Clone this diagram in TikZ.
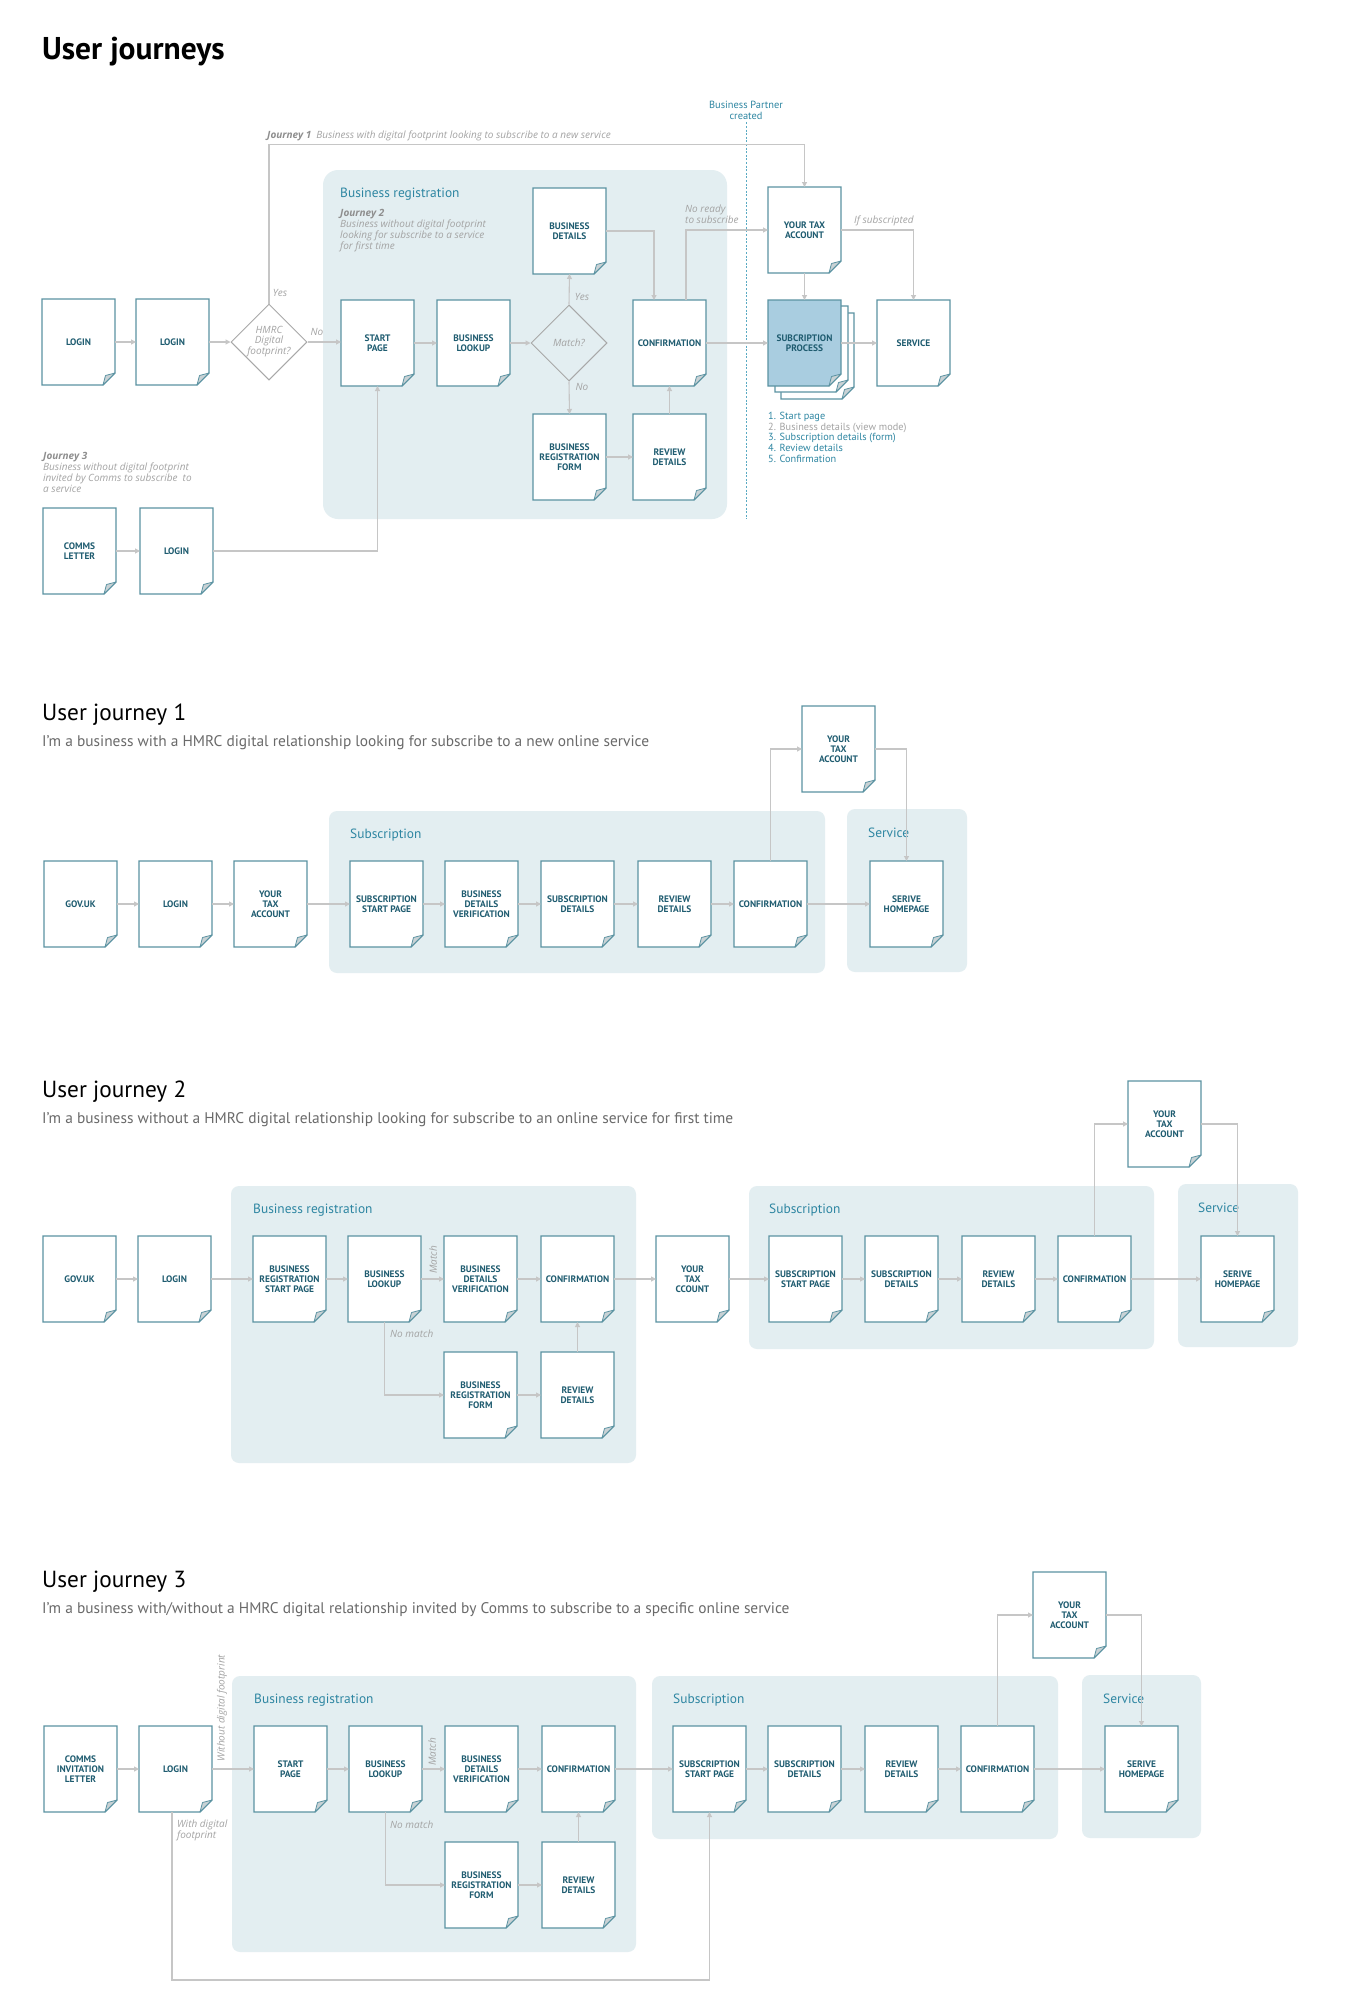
\documentclass[tikz,border=0pt]{standalone}
\usepackage{fontspec}
\setmainfont{PT Sans}
\newfontfamily\lblfont{Open Sans}
\usetikzlibrary{arrows.meta,shapes.geometric,calc}
\definecolor{pgborder}{HTML}{5B93A2}
\definecolor{pgtext}{HTML}{1F5C70}
\definecolor{conncol}{HTML}{C6C6C6}
\definecolor{grpfill}{HTML}{E3EEF1}
\definecolor{grptitlecol}{HTML}{2E86A2}
\definecolor{lblgray}{HTML}{A3A3A3}
\definecolor{lbldark}{HTML}{8E8E8E}
\definecolor{foldfill}{HTML}{C9D2D5}
\definecolor{spfill}{HTML}{A9CDE0}
\definecolor{bpline}{HTML}{5AAAC3}
\definecolor{subgray}{HTML}{6A6A6A}
\tikzset{
 pageline/.style={draw=pgborder, line width=1.1pt, line join=miter},
 foldst/.style={draw=pgborder, fill=foldfill, line width=0.8pt, line join=round},
 pagetext/.style={minimum width=73pt, minimum height=86pt, inner sep=0pt, outer sep=0pt, align=center, text=pgtext, font=\bfseries\fontsize{9.4}{10}\selectfont},
 conn/.style={draw=conncol, line width=1.1pt, -{Triangle[length=5pt,width=5pt]}},
 grp/.style={fill=grpfill, draw=none, rounded corners=8pt},
 grptitlest/.style={anchor=west, text=grptitlecol, font=\fontsize{13.4}{15}\selectfont, inner sep=0pt},
 lbl/.style={text=lblgray, font=\lblfont\itshape\fontsize{10}{11}\selectfont, inner sep=0pt},
 dmd/.style={diamond, draw=conncol!85!black, line width=1pt, minimum width=76pt, minimum height=76pt, inner sep=0pt, shape aspect=1, align=center, text=lblgray, font=\lblfont\itshape\fontsize{10}{9.8}\selectfont},
 heading/.style={anchor=west, inner sep=0pt, font=\fontsize{23.3}{26}\selectfont},
 subhead/.style={anchor=west, inner sep=0pt, text=subgray, font=\fontsize{15.4}{18}\selectfont},
}
\newcommand\pg[5][white]{%
 \filldraw[pageline, fill=#1] (#3,#4) -- ++(73,0) -- ++(0,74) -- ++(-12,12) -- ++(-61,0) -- cycle;
 \filldraw[foldst] (#3+73,#4+74) -- (#3+61,#4+86) -- (#3+63.5,#4+76.5) -- cycle;
 \node[pagetext] (#2) at (#3+36.5,#4+43) {#5};
}
\newcommand\hc[2]{\draw[conn] (#1.east) -- (#1.east -| #2.west);}
\begin{document}
\begin{tikzpicture}[x=1pt,y=-1pt]
\fill[white] (0,0) rectangle (1347,2000);
\useasboundingbox (0,0) rectangle (1347,2000);

% ---------------- Title
\node[anchor=west, inner sep=0pt, font=\bfseries\fontsize{31.5}{34}\selectfont] (title) at (42,52) {User journeys};

% ---------------- Overview
\fill[grpfill, rounded corners=15pt] (323,170) rectangle (727,519);
\node[grptitlest] (brtA) at (340,194) {Business registration};
\node[lbl, anchor=north west, align=left, font=\lblfont\itshape\fontsize{10}{11}\selectfont] (j2txt) at (340,209) {{\bfseries\color{lbldark}Journey 2}\\Business without digital footprint\\looking for subscribe to a service\\for first time};
\node[lbl, anchor=west] (j1txt) at (267,136) {{\bfseries\color{lbldark}Journey 1}\enspace Business with digital footprint looking to subscribe to a new service};
\node[lbl, anchor=north west, align=left, font=\lblfont\itshape\fontsize{10}{11}\selectfont] (j3txt) at (43,452) {{\bfseries\color{lbldark}Journey 3}\\Business without digital footprint\\invited by Comms to subscribe\ \ to\\a service};

\node[inner sep=0pt, align=center, text=grptitlecol, font=\fontsize{10.4}{11}\selectfont] (bp) at (746,110) {Business Partner\\created};
\coordinate (bpend) at (746,519);
\draw[bpline, line width=1pt, dash pattern=on 2pt off 1.6pt] ([yshift=-3pt]bp.south) -- (bpend);

\pg{loginA}{42}{299}{LOGIN}
\pg{loginB}{136}{299}{LOGIN}
\node[dmd] (dfp) at (269,342) {HMRC\\Digital\\footprint?};
\pg{startA}{341}{300}{START\\PAGE}
\pg{blA}{437}{300}{BUSINESS\\LOOKUP}
\node[dmd] (matchA) at (569,343) {Match?};
\pg{bdA}{533}{188}{BUSINESS\\DETAILS}
\pg{brfA}{533}{414}{BUSINESS\\REGISTRATION\\FORM}
\pg{rdA}{633}{414}{REVIEW\\DETAILS}
\pg{confA}{633}{300}{CONFIRMATION}
\pg{ytaA}{768}{187}{YOUR TAX\\ACCOUNT}
\pg{spC}{781}{313}{}
\pg{spB}{775}{306}{}
\pg[spfill]{spA}{768}{300}{SUBCRIPTION\\PROCESS}
\pg{servA}{877}{300}{SERVICE}
\pg{commsA}{43}{508}{COMMS\\LETTER}
\pg{loginC}{140}{508}{LOGIN}

\hc{loginA}{loginB}
\hc{loginB}{dfp}
\hc{dfp}{startA}
\hc{startA}{blA}
\hc{blA}{matchA}
\draw[conn] (matchA.north) -- (bdA.south);
\draw[conn] (matchA.south) -- (brfA.north);
\draw[conn] (bdA.east) -| ([xshift=-15.5pt]confA.north);
\hc{brfA}{rdA}
\draw[conn] (rdA.north) -- (confA.south);
\draw[conn] ([xshift=16.5pt]confA.north) |- (ytaA.west);
\hc{confA}{spA}
\draw[conn] (ytaA.south) -- (spA.north);
\draw[conn] (ytaA.east) -| (servA.north);
\hc{spA}{servA}
\draw[conn] (dfp.north) -- ++(0,-159) -| (ytaA.north);
\hc{commsA}{loginC}
\draw[conn] (loginC.east) -| (startA.south);

\node[lbl] (yesA) at (280,293) {Yes};
\node[lbl] (noA) at (317,332) {No};
\node[lbl] (yesB) at (582,297) {Yes};
\node[lbl] (noB) at (582,387) {No};
\node[lbl, anchor=north west, align=left, font=\lblfont\itshape\fontsize{10}{10}\selectfont] (notready) at (685,205) {No ready\\to subscribe};
\node[lbl, anchor=west] (ifsub) at (854,221) {If subscripted};
\node[anchor=north west, align=left, inner sep=0pt, text=grptitlecol, font=\fontsize{10.3}{10.7}\selectfont] (steps) at (768,412) {1. Start page\\\textcolor{lblgray}{2. Business details (view mode)}\\3. Subscription details (form)\\4. Review details\\5. Confirmation};

% ---------------- User journey 1
\node[heading] (h1) at (42,715) {User journey 1};
\node[subhead] (s1) at (42,743) {I’m a business with a HMRC digital relationship looking for subscribe to a new online service};
\fill[grp] (329,811) rectangle (825,973);
\fill[grp] (847,809) rectangle (967,972);
\node[grptitlest] (subt1) at (350,835) {Subscription};
\node[grptitlest] (servt1) at (868,833) {Service};
\pg{govB}{44}{861}{GOV.UK}
\pg{loginD}{139}{861}{LOGIN}
\pg{ytaB}{234}{861}{YOUR\\TAX\\ACCOUNT}
\pg{sspB}{350}{861}{SUBSCRIPTION\\START PAGE}
\pg{bdvB}{445}{861}{BUSINESS\\DETAILS\\VERIFICATION}
\pg{sdB}{541}{861}{SUBSCRIPTION\\DETAILS}
\pg{rdB}{638}{861}{REVIEW\\DETAILS}
\pg{confB}{734}{861}{CONFIRMATION}
\pg{shB}{870}{861}{SERIVE\\HOMEPAGE}
\pg{ytaC}{802}{706}{YOUR\\TAX\\ACCOUNT}
\hc{govB}{loginD}
\hc{loginD}{ytaB}
\hc{ytaB}{sspB}
\hc{sspB}{bdvB}
\hc{bdvB}{sdB}
\hc{sdB}{rdB}
\hc{rdB}{confB}
\hc{confB}{shB}
\draw[conn] (confB.north) |- (ytaC.west);
\draw[conn] (ytaC.east) -| (shB.north);

% ---------------- User journey 2
\node[heading] (h2) at (42,1092) {User journey 2};
\node[subhead] (s2) at (42,1120) {I’m a business without a HMRC digital relationship looking for subscribe to an online service for first time};
\fill[grp] (231,1186) rectangle (636,1463);
\fill[grp] (749,1186) rectangle (1154,1349);
\fill[grp] (1178,1184) rectangle (1298,1347);
\node[grptitlest] (brt2) at (253,1210) {Business registration};
\node[grptitlest] (subt2) at (769,1210) {Subscription};
\node[grptitlest] (servt2) at (1198,1208) {Service};
\pg{govE}{43}{1236}{GOV.UK}
\pg{loginE}{138}{1236}{LOGIN}
\pg{brspE}{253}{1236}{BUSINESS\\REGISTRATION\\START PAGE}
\pg{blE}{348}{1236}{BUSINESS\\LOOKUP}
\pg{bdvE}{444}{1236}{BUSINESS\\DETAILS\\VERIFICATION}
\pg{confE}{541}{1236}{CONFIRMATION}
\pg{brfE}{444}{1352}{BUSINESS\\REGISTRATION\\FORM}
\pg{rdE}{541}{1352}{REVIEW\\DETAILS}
\pg{ytcE}{656}{1236}{YOUR\\TAX\\CCOUNT}
\pg{sspE}{769}{1236}{SUBSCRIPTION\\START PAGE}
\pg{sdE}{865}{1236}{SUBSCRIPTION\\DETAILS}
\pg{rdF}{962}{1236}{REVIEW\\DETAILS}
\pg{confF}{1058}{1236}{CONFIRMATION}
\pg{shE}{1201}{1236}{SERIVE\\HOMEPAGE}
\pg{ytaE}{1128}{1081}{YOUR\\TAX\\ACCOUNT}
\hc{govE}{loginE}
\hc{loginE}{brspE}
\hc{brspE}{blE}
\hc{blE}{bdvE}
\hc{bdvE}{confE}
\hc{confE}{ytcE}
\hc{ytcE}{sspE}
\hc{sspE}{sdE}
\hc{sdE}{rdF}
\hc{rdF}{confF}
\hc{confF}{shE}
\draw[conn] (blE.south) |- (brfE.west);
\hc{brfE}{rdE}
\draw[conn] (rdE.north) -- (confE.south);
\draw[conn] (confF.north) |- (ytaE.west);
\draw[conn] (ytaE.east) -| (shE.north);
\node[lbl, rotate=90] (match2) at (433,1260) {Match};
\node[lbl, anchor=west] (nomatch2) at (390,1334) {No match};

% ---------------- User journey 3
\node[heading] (h3) at (42,1582) {User journey 3};
\node[subhead] (s3) at (42,1610) {I’m a business with/without a HMRC digital relationship invited by Comms to subscribe to a specific online service};
\fill[grp] (232,1676) rectangle (636,1952);
\fill[grp] (652,1676) rectangle (1058,1839);
\fill[grp] (1082,1675) rectangle (1201,1838);
\node[grptitlest] (brt3) at (254,1700) {Business registration};
\node[grptitlest] (subt3) at (673,1700) {Subscription};
\node[grptitlest] (servt3) at (1103,1699) {Service};
\pg{cilG}{44}{1726}{COMMS\\INVITATION\\LETTER}
\pg{loginG}{139}{1726}{LOGIN}
\pg{startG}{254}{1726}{START\\PAGE}
\pg{blG}{349}{1726}{BUSINESS\\LOOKUP}
\pg{bdvG}{445}{1726}{BUSINESS\\DETAILS\\VERIFICATION}
\pg{confG}{542}{1726}{CONFIRMATION}
\pg{brfG}{445}{1842}{BUSINESS\\REGISTRATION\\FORM}
\pg{rdG}{542}{1842}{REVIEW\\DETAILS}
\pg{sspG}{673}{1726}{SUBSCRIPTION\\START PAGE}
\pg{sdG}{768}{1726}{SUBSCRIPTION\\DETAILS}
\pg{rdH}{865}{1726}{REVIEW\\DETAILS}
\pg{confH}{961}{1726}{CONFIRMATION}
\pg{shG}{1105}{1726}{SERIVE\\HOMEPAGE}
\pg{ytaG}{1033}{1572}{YOUR\\TAX\\ACCOUNT}
\hc{cilG}{loginG}
\hc{loginG}{startG}
\hc{startG}{blG}
\hc{blG}{bdvG}
\hc{bdvG}{confG}
\hc{confG}{sspG}
\hc{sspG}{sdG}
\hc{sdG}{rdH}
\hc{rdH}{confH}
\hc{confH}{shG}
\draw[conn] (blG.south) |- (brfG.west);
\hc{brfG}{rdG}
\draw[conn] (rdG.north) -- (confG.south);
\draw[conn] (confH.north) |- (ytaG.west);
\draw[conn] (ytaG.east) -| (shG.north);
\draw[conn] ([xshift=-3.5pt]loginG.south) -- ++(0,168) -| (sspG.south);
\node[lbl, rotate=90] (match3) at (432,1752) {Match};
\node[lbl, anchor=west] (nomatch3) at (390,1825) {No match};
\node[lbl, rotate=90] (wodf) at (222,1708) {Without digital footprint};
\node[lbl, anchor=north west, align=left, font=\lblfont\itshape\fontsize{10}{10}\selectfont] (wdf) at (177,1820) {With digital\\footprint};
\end{tikzpicture}
\end{document}
